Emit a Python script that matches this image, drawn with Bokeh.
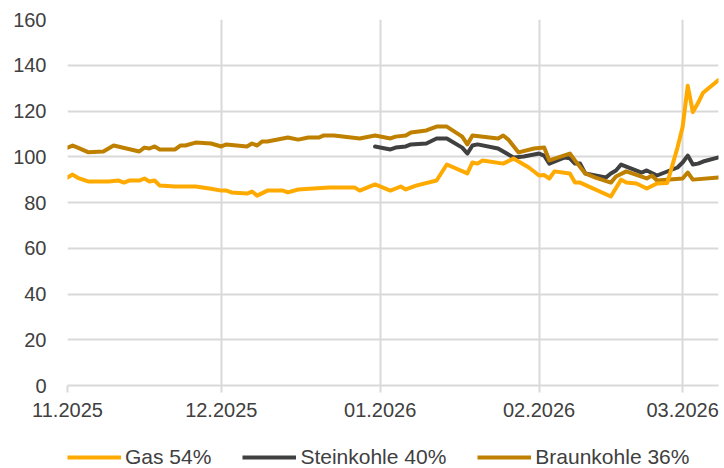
import pandas as pd
from bokeh.plotting import figure
from bokeh.layouts import column
from bokeh.models import (Range1d, FixedTicker, DatetimeTickFormatter, Legend,
                          LegendItem, ColumnDataSource)
from bokeh.embed import file_html
from bokeh.resources import INLINE

# ---------------- data ----------------
gas_dates = ["2025-11-01", "2025-11-02", "2025-11-03", "2025-11-05", "2025-11-09", "2025-11-11",
             "2025-11-12", "2025-11-13", "2025-11-15", "2025-11-16", "2025-11-17", "2025-11-18",
             "2025-11-19", "2025-11-22", "2025-11-26", "2025-11-29", "2025-12-01", "2025-12-02",
             "2025-12-03", "2025-12-06", "2025-12-07", "2025-12-08", "2025-12-10", "2025-12-13",
             "2025-12-14", "2025-12-16", "2025-12-22", "2025-12-27", "2025-12-28", "2025-12-31",
             "2026-01-03", "2026-01-05", "2026-01-06", "2026-01-08", "2026-01-12", "2026-01-14",
             "2026-01-18", "2026-01-19", "2026-01-20", "2026-01-21", "2026-01-25", "2026-01-27",
             "2026-01-30", "2026-02-01", "2026-02-02", "2026-02-03", "2026-02-04", "2026-02-07",
             "2026-02-08", "2026-02-09", "2026-02-15", "2026-02-17", "2026-02-18", "2026-02-20",
             "2026-02-22", "2026-02-24", "2026-02-26", "2026-02-28", "2026-03-01", "2026-03-02",
             "2026-03-03", "2026-03-04", "2026-03-05", "2026-03-08"]
gas_values = [90.9, 92.2, 90.8, 89.2, 89.2, 89.6, 88.7, 89.6, 89.6, 90.5, 89.2, 89.6,
              87.4, 87.0, 87.0, 86.0, 85.2, 85.2, 84.4, 83.9, 84.8, 83.0, 85.2, 85.2,
              84.4, 85.7, 86.6, 86.6, 85.2, 87.9, 85.2, 87.0, 85.7, 87.4, 89.6, 96.6,
              92.7, 97.5, 97.0, 98.4, 97.0, 99.2, 95.3, 91.8, 92.0, 90.5, 93.6, 92.7,
              88.7, 88.7, 82.6, 90.0, 88.7, 88.3, 86.1, 88.3, 88.5, 104.0, 113.0, 131.0,
              119.5, 123.5, 128.0, 133.5]

stein_dates = ["2025-12-31", "2026-01-03", "2026-01-04", "2026-01-06", "2026-01-07", "2026-01-10",
               "2026-01-12", "2026-01-14", "2026-01-17", "2026-01-18", "2026-01-19", "2026-01-20",
               "2026-01-24", "2026-01-27", "2026-01-29", "2026-02-01", "2026-02-02", "2026-02-03",
               "2026-02-06", "2026-02-07", "2026-02-08", "2026-02-09", "2026-02-10", "2026-02-14",
               "2026-02-15", "2026-02-16", "2026-02-17", "2026-02-21", "2026-02-22", "2026-02-24",
               "2026-02-28", "2026-03-01", "2026-03-02", "2026-03-03", "2026-03-04", "2026-03-05",
               "2026-03-08"]
stein_values = [104.5, 103.2, 104.0, 104.5, 105.4, 105.8, 108.0, 108.0, 104.0, 101.4, 104.9, 105.4,
                103.6, 99.7, 100.1, 101.4, 100.5, 97.0, 99.7, 99.3, 97.0, 97.0, 92.7, 90.9,
                92.7, 94.0, 96.6, 93.1, 94.0, 91.8, 95.3, 97.5, 100.5, 96.6, 97.0, 97.9, 99.7]

braun_dates = ["2025-11-01", "2025-11-02", "2025-11-03", "2025-11-05", "2025-11-08", "2025-11-10",
               "2025-11-15", "2025-11-16", "2025-11-17", "2025-11-18", "2025-11-19", "2025-11-22",
               "2025-11-23", "2025-11-24", "2025-11-26", "2025-11-29", "2025-12-01", "2025-12-02",
               "2025-12-06", "2025-12-07", "2025-12-08", "2025-12-09", "2025-12-10", "2025-12-14",
               "2025-12-16", "2025-12-18", "2025-12-20", "2025-12-21", "2025-12-23", "2025-12-28",
               "2025-12-31", "2026-01-03", "2026-01-04", "2026-01-06", "2026-01-07", "2026-01-10",
               "2026-01-12", "2026-01-14", "2026-01-17", "2026-01-18", "2026-01-19", "2026-01-24",
               "2026-01-25", "2026-01-26", "2026-01-28", "2026-01-31", "2026-02-02", "2026-02-03",
               "2026-02-07", "2026-02-08", "2026-02-10", "2026-02-12", "2026-02-15", "2026-02-16",
               "2026-02-18", "2026-02-22", "2026-02-23", "2026-02-24", "2026-03-01", "2026-03-02",
               "2026-03-03", "2026-03-08"]
braun_values = [104.0, 104.9, 104.0, 102.0, 102.3, 104.9, 102.3, 104.0, 103.6, 104.5, 103.2, 103.2,
                104.9, 104.9, 106.2, 105.8, 104.5, 105.4, 104.5, 105.8, 104.9, 106.7, 106.7, 108.4,
                107.5, 108.4, 108.4, 109.3, 109.3, 108.0, 109.3, 108.0, 108.8, 109.3, 110.6, 111.5,
                113.2, 113.2, 108.8, 105.4, 109.3, 108.0, 109.3, 107.5, 101.9, 103.6, 104.0, 98.4,
                101.4, 98.4, 92.7, 90.9, 88.7, 91.4, 93.6, 90.5, 91.8, 89.6, 90.5, 93.1,
                90.0, 90.9]

series_names = ["Gas 54%", "Steinkohle 40%", "Braunkohle 36%"]
series_colors = ["#FFAA00", "#404040", "#BF8000"]

x_tick_dates = ["2025-11-01", "2025-12-01", "2026-01-01", "2026-02-01", "2026-03-01"]
x_tick_labels = ["11.2025", "12.2025", "01.2026", "02.2026", "03.2026"]
y_ticks = [0, 20, 40, 60, 80, 100, 120, 140, 160]
x_start, x_end = "2025-11-01", "2026-03-08"

FONT = "Liberation Sans"
TXT = "#404040"
GRID = "#d9d9d9"
LINE_W = 4
LEFT, RIGHT, TOP = 67, 6, 19
FRAME_W, FRAME_H = 651, 366

# ---------------- main figure ----------------
p = figure(frame_width=FRAME_W, frame_height=FRAME_H, x_axis_type="datetime",
           output_backend="svg", toolbar_location=None,
           x_range=Range1d(pd.Timestamp(x_start), pd.Timestamp(x_end)),
           y_range=Range1d(0, 160),
           min_border_left=LEFT, min_border_right=RIGHT, min_border_top=TOP, min_border_bottom=0)
p.outline_line_color = None
p.background_fill_color = "white"
p.border_fill_color = "white"

tick_ms = [pd.Timestamp(d).value / 1e6 for d in x_tick_dates]
xticker = FixedTicker(ticks=tick_ms)
p.xaxis.ticker = xticker
p.xaxis.major_label_overrides = {t: lab for t, lab in zip(tick_ms, x_tick_labels)}
fmt = "%m.%Y"
p.xaxis.formatter = DatetimeTickFormatter(milliseconds=fmt, seconds=fmt, minsec=fmt, minutes=fmt,
                                          hourmin=fmt, hours=fmt, days=fmt, months=fmt, years=fmt)
p.xgrid.ticker = xticker
p.yaxis.ticker = FixedTicker(ticks=y_ticks)
p.ygrid.ticker = FixedTicker(ticks=y_ticks)

for g in (p.xgrid, p.ygrid):
    g.grid_line_color = GRID
    g.grid_line_width = 2

xa = p.xaxis[0]
xa.axis_line_color = GRID
xa.axis_line_width = 2
xa.major_tick_line_color = GRID
xa.major_tick_line_width = 2
xa.major_tick_out = 7
xa.major_tick_in = 0
xa.minor_tick_line_color = None
xa.major_label_standoff = 10

ya = p.yaxis[0]
ya.axis_line_color = None
ya.major_tick_line_color = None
ya.minor_tick_line_color = None
ya.major_label_standoff = 15

for ax in (xa, ya):
    ax.major_label_text_font = FONT
    ax.major_label_text_font_size = "20px"
    ax.major_label_text_color = TXT

datasets = {name: (d, v) for name, d, v in zip(
    series_names,
    [gas_dates, stein_dates, braun_dates],
    [gas_values, stein_values, braun_values])}
colors = dict(zip(series_names, series_colors))
sources = {name: ColumnDataSource(dict(x=pd.to_datetime(d), y=v))
           for name, (d, v) in datasets.items()}

# draw order: Steinkohle, Braunkohle, then Gas on top
for name in ["Steinkohle 40%", "Braunkohle 36%", "Gas 54%"]:
    p.line("x", "y", source=sources[name], line_color=colors[name], line_width=LINE_W,
           line_join="round", line_cap="round")

# ---------------- legend strip (same series, ranges that show no data) ----------------
lg = figure(frame_width=FRAME_W, frame_height=50, output_backend="svg", toolbar_location=None,
            min_border_left=LEFT, min_border_right=RIGHT, min_border_top=0, min_border_bottom=0,
            x_range=Range1d(0, 1), y_range=Range1d(0, 1))
lg.outline_line_color = None
lg.axis.visible = False
lg.grid.visible = False
items = []
for name in series_names:
    r = lg.line("x", "y", source=sources[name], line_color=colors[name], line_width=LINE_W)
    items.append(LegendItem(label=name, renderers=[r]))
legend = Legend(items=items, orientation="horizontal", location=(0, 0),
                label_text_font=FONT, label_text_font_size="21px", label_text_color=TXT,
                glyph_width=54, glyph_height=20, label_height=20, label_standoff=4, spacing=31,
                padding=0, margin=0, border_line_color=None, background_fill_alpha=0)
lg.add_layout(legend, "center")

layout = column(p, lg, spacing=0)
open("out.html", "w").write(file_html(layout, INLINE))
